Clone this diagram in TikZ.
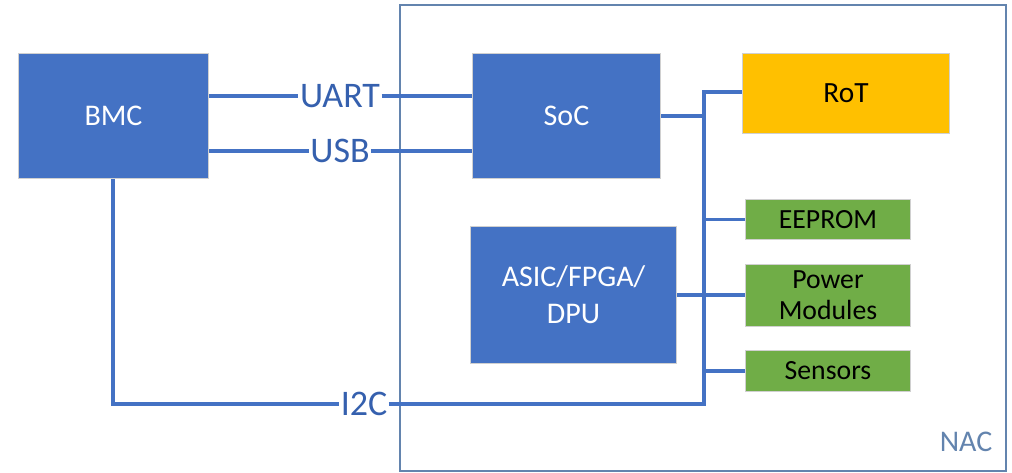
\documentclass[tikz,border=0pt]{standalone}
\usepackage{fontspec}
\setmainfont{Carlito}
\definecolor{boxblue}{HTML}{4472C4}
\definecolor{boxorange}{HTML}{FFC000}
\definecolor{boxgreen}{HTML}{70AD47}
\definecolor{boxedge}{HTML}{D0D0D0}
\definecolor{wire}{HTML}{4472C4}
\definecolor{labblue}{HTML}{3560AE}
\definecolor{framecol}{HTML}{6384AE}
\begin{document}
\begin{tikzpicture}[x=0.75pt,y=-0.75pt,
  box/.style={draw=boxedge, line width=0.75pt, inner sep=0pt, anchor=north west, align=center},
  bluebox/.style={box, fill=boxblue, text=white, font=\fontsize{22.5}{27.5}\selectfont},
  greenbox/.style={box, fill=boxgreen, text=black, font=\fontsize{20.8}{23.5}\selectfont},
  wirel/.style={draw=wire, line width=2.3pt},
  buslabel/.style={fill=white, inner sep=1pt, text=labblue, font=\fontsize{27}{30}\selectfont}]
\useasboundingbox (0,0) rectangle (1012,473);
% NAC frame
\draw[framecol, line width=1.5pt] (400,5) rectangle (1006,471);
\node[text=framecol, font=\fontsize{22.5}{26}\selectfont] (nac) at (966,442) {NAC};
% boxes
\node[bluebox, minimum width=142.5pt, minimum height=93.75pt] (bmc) at (18,53) {BMC};
\node[bluebox, minimum width=141pt, minimum height=93.75pt] (soc) at (472,53) {SoC};
\node[bluebox, minimum width=154.5pt, minimum height=102.75pt] (asic) at (470,226) {ASIC/FPGA/\\DPU};
\node[box, fill=boxorange, text=black, font=\fontsize{22}{26}\selectfont, minimum width=155.25pt, minimum height=60pt] (rot) at (742,53) {RoT};
\node[greenbox, minimum width=123.75pt, minimum height=30pt] (eeprom) at (745,199) {EEPROM};
\node[greenbox, minimum width=123.75pt, minimum height=46.5pt] (power) at (745,264) {Power\\Modules};
\node[greenbox, minimum width=123.75pt, minimum height=30.75pt] (sensors) at (745,350) {Sensors};
% bus labels
\node[buslabel] (uart) at (340,96) {UART};
\node[buslabel] (usb) at (340,151) {USB};
\node[buslabel] (i2c) at (364,404) {I2C};
% bus coordinates
\coordinate (bustop) at (704,92);
\coordinate (busbot) at (704,404);
\coordinate (bmcdown) at (113,404);
% connectors
\draw[wirel] (bmc.east |- uart) -- (uart.west);
\draw[wirel] (uart.east) -- (soc.west |- uart);
\draw[wirel] (bmc.east |- usb) -- (usb.west);
\draw[wirel] (usb.east) -- (soc.west |- usb);
\draw[wirel] (bmc.south -| bmcdown) -- (bmcdown) -- (i2c.west);
\draw[wirel] (i2c.east) -- (busbot) -- (bustop) -- (rot.west |- bustop);
\draw[wirel] (soc.east) -- (soc.east -| bustop);
\draw[wirel] (eeprom.west -| bustop) -- (eeprom.west);
\draw[wirel] (asic.east) -- (power.west |- asic.east);
\draw[wirel] (sensors.west -| bustop) -- (sensors.west);
\end{tikzpicture}
\end{document}
